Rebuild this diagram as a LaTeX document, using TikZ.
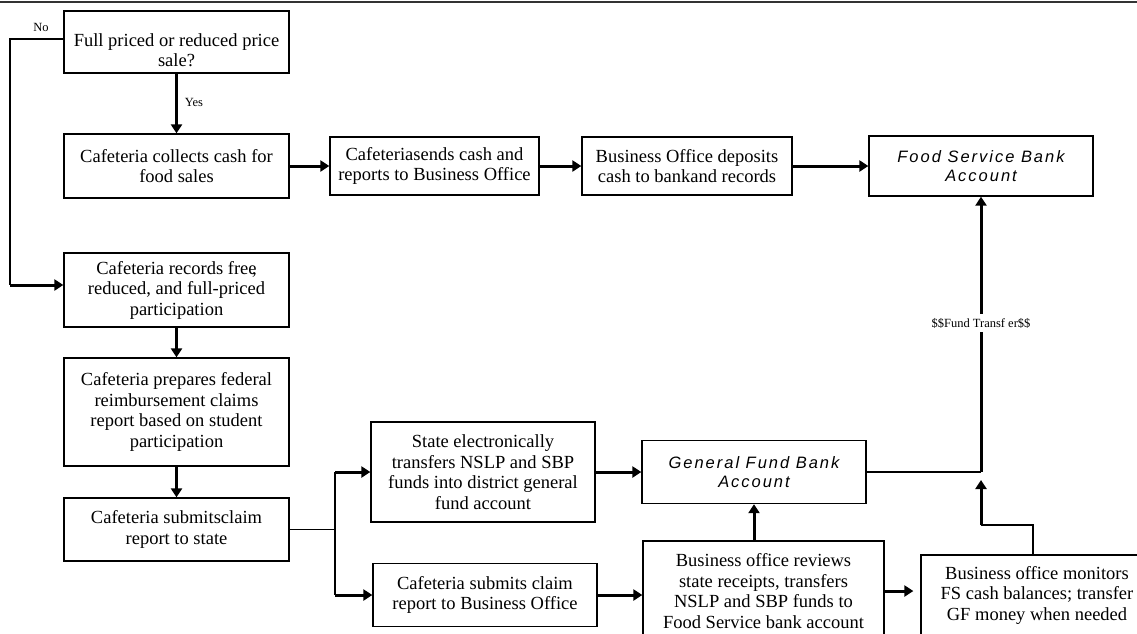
\documentclass[tikz,border=0pt]{standalone}
\usepackage{fontspec}
\setmainfont{Liberation Serif}
\newfontfamily\acctfont[LetterSpace=12]{Liberation Sans}
\usetikzlibrary{arrows.meta}

\begin{document}
\begin{tikzpicture}[x=1pt,y=-1pt,
  box/.style={draw,line width=1.3pt,inner sep=0pt,align=center,font=\fontsize{18.5}{20.5}\selectfont},
  acct/.style={box,font=\acctfont\itshape\fontsize{16.5}{19.5}\selectfont},
  flow/.style={line width=3pt,-{Triangle[length=9pt,width=11pt]}},
  link/.style={line width=1.1pt},
  tag/.style={font=\fontsize{12.5}{14}\selectfont,inner sep=0pt}]
\clip (0,0) rectangle (1137,633);
\draw[line width=1.2pt,black!80] (0,2) -- (1137,2);

\node[box,minimum width=225pt,minimum height=62pt] (sale) at (176.5,42) {\rule{0pt}{29pt}Full priced or reduced price\\sale?};
\node[box,minimum width=225pt,minimum height=64pt] (collect) at (176.5,166) {Cafeteria collects cash for\\food sales};
\node[box,minimum width=209pt,minimum height=58pt] (send) at (434.5,166) {Cafeteriasends cash and\\reports to Business Office};
\node[box,minimum width=210pt,minimum height=58pt] (deposit) at (687,166) {Business Office deposits\\cash to bankand records};
\node[acct,minimum width=224pt,minimum height=60pt] (fsbank) at (981,166) {Food Service Bank\\Account};
\node[box,minimum width=225pt,minimum height=74pt] (record) at (176.5,290) {Cafeteria records free\llap{,}\\reduced, and full-priced\\participation};
\node[box,minimum width=225pt,minimum height=108pt] (prepare) at (176.5,412) {Cafeteria prepares federal\\reimbursement claims\\report based on student\\participation};
\node[box,minimum width=225pt,minimum height=63pt] (submit) at (176.5,529.5) {Cafeteria submitsclaim\\report to state};
\node[box,minimum width=224pt,minimum height=100pt] (statexfer) at (483,472) {State electronically\\transfers NSLP and SBP\\funds into district general\\fund account};
\node[acct,minimum width=224pt,minimum height=63pt] (gfbank) at (754,472) {General Fund Bank\\Account};
\node[box,minimum width=224pt,minimum height=63pt] (claimbo) at (485,595) {Cafeteria submits claim\\report to Business Office};
\node[box,minimum width=241pt,minimum height=100pt] (review) at (763.5,591) {Business office reviews\\state receipts, transfers\\NSLP and SBP funds to\\Food Service bank account};
\node[box,minimum width=232pt,minimum height=80pt] (monitor) at (1037,595) {Business office monitors\\FS cash balances; transfer\\GF money when needed};

\node[tag] (no) at (41,27) {No};
\node[tag] (yes) at (194,102) {Yes};

\coordinate (nobend) at (10,39);
\coordinate (noturn) at (10,285);
\coordinate (splittop) at (335,472);
\coordinate (splitbot) at (335,595);
\coordinate (fundjoin) at (gfbank.east -| fsbank.south);
\coordinate (monbend) at (1033,525);

\draw[flow] (sale) -- (collect);
\draw[link] (nobend -| sale.west) -- (nobend) -- (noturn);
\draw[flow] (noturn) -- (noturn -| record.west);
\draw[flow] (collect) -- (send);
\draw[flow] (send) -- (deposit);
\draw[flow] (deposit) -- (fsbank);
\draw[flow] (record) -- (prepare);
\draw[flow] (prepare) -- (submit);
\draw[link] (submit.east) -- (submit.east -| splittop);
\draw[link] (splittop) -- (splitbot);
\draw[flow] (splittop) -- (statexfer);
\draw[flow] (splitbot) -- (claimbo);
\draw[flow] (statexfer) -- (gfbank);
\draw[flow] (claimbo.east) -- (claimbo.east -| review.west);
\draw[flow] (gfbank.south |- review.north) -- (gfbank.south);
\draw[flow,shorten >=7pt] (review.east) -- (review.east -| monitor.west);
\draw[link] (gfbank.east) -- (fundjoin);
\draw[flow] (fundjoin) -- node[tag,pos=0.54,fill=white,inner ysep=4pt] (fundlabel) {\$\$Fund Transf er\$\$} (fsbank.south);
\draw[link] (monitor.north -| monbend) -- (monbend) -- (monbend -| fundjoin);
\draw[flow] (monbend -| fundjoin) -- ([yshift=-8pt]fundjoin);
\end{tikzpicture}
\end{document}
